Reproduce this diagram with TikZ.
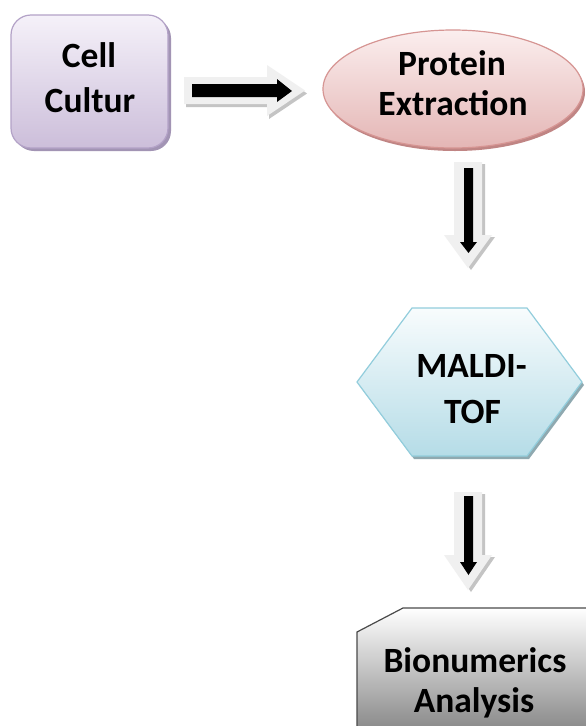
\documentclass[tikz,border=0pt]{standalone}
\usepackage{fontspec}
\setmainfont{Carlito}
\usetikzlibrary{shapes.geometric,shadows}
\definecolor{lavtop}{HTML}{F5F1F9}
\definecolor{lavbot}{HTML}{CCBEDA}
\definecolor{lavline}{HTML}{B3A2C7}
\definecolor{lavshadow}{HTML}{A294B4}
\definecolor{pinktop}{HTML}{FBEEEE}
\definecolor{pinkbot}{HTML}{E4B6B5}
\definecolor{pinkline}{HTML}{D69593}
\definecolor{pinkshadow}{HTML}{C08584}
\definecolor{bluetop}{HTML}{F8FCFD}
\definecolor{bluebot}{HTML}{B5DCE7}
\definecolor{blueline}{HTML}{92CDDC}
\definecolor{blueshadow}{HTML}{8FA9B0}
\definecolor{greyline}{HTML}{4A4A4A}
\definecolor{arrowfill}{HTML}{F0F0F0}
\definecolor{arrowshadow}{HTML}{C4C4C4}
\begin{document}
\begin{tikzpicture}[x=1pt,y=-1pt,
  lbl/.style={anchor=base,font=\fontsize{35.5}{40}\selectfont\bfseries,inner sep=0pt},
  outerarrow/.style={fill=arrowfill,draw=none},
  arrowshade/.style={fill=arrowshadow,draw=none},
  innerarrow/.style={fill=black,draw=none}]
\useasboundingbox (0,0) rectangle (586,726);
\fill[white] (0,0) rectangle (586,726);

% Cell Cultur box
\fill[lavshadow,rounded corners=20pt] (14,18) rectangle (171,151);
\node[draw=lavline,line width=1.2pt,rounded corners=20pt,top color=lavtop,bottom color=lavbot,
      minimum width=157pt,minimum height=133pt,inner sep=0pt] (cell) at (89.5,81.5) {};
\node[lbl] (cellA) at (89,67) {Cell};
\node[lbl] (cellB) at (90,112) {Cultur};

% Protein Extraction ellipse
\fill[pinkshadow] (455,92) ellipse [x radius=130pt,y radius=59pt];
\node[ellipse,draw=pinkline,line width=1.2pt,top color=pinktop,bottom color=pinkbot,
      minimum width=260pt,minimum height=118pt,inner sep=0pt] (prot) at (453,89) {};
\node[lbl] (protA) at (452,75) {Protein};
\node[lbl] (protB) at (453,115) {Extraction};

% MALDI-TOF hexagon
\coordinate (hexc) at (470,382);
\fill[blueshadow] ([shift={(2,3)}]hexc) ++(-113,0) -- ++(55,-74) -- ++(115,0) -- ++(55,74) -- ++(-55,74) -- ++(-115,0) -- cycle;
\path[draw=blueline,line width=1.2pt,top color=bluetop,bottom color=bluebot]
  (hexc) ++(-113,0) -- ++(55,-74) -- ++(115,0) -- ++(55,74) -- ++(-55,74) -- ++(-115,0) -- cycle;
\node[lbl] (maldiA) at (471.5,377) {MALDI-};
\node[lbl] (maldiB) at (472.5,423) {TOF};

% Bionumerics Analysis snipped box
\path[draw=greyline,line width=1.2pt,top color=white,bottom color=black!52]
  (357,632) -- (403,608) -- (592,608) -- (592,745) -- (357,745) -- cycle;
\node[lbl] (bioA) at (475,672) {Bionumerics};
\node[lbl] (bioB) at (474,712) {Analysis};

% horizontal block arrow
\fill[arrowshade,shift={(2,3)}] (184,77) -- (267,77) -- (267,65) -- (305,90.5) -- (267,116) -- (267,104) -- (184,104) -- cycle;
\fill[outerarrow] (184,77) -- (267,77) -- (267,65) -- (305,90.5) -- (267,116) -- (267,104) -- (184,104) -- cycle;
\fill[innerarrow] (192,84) -- (277,84) -- (277,79) -- (292,91) -- (277,102) -- (277,97) -- (192,97) -- cycle;

% vertical block arrow 1
\fill[arrowshade,shift={(3,2)}] (454,162) -- (482,162) -- (482,235) -- (492,235) -- (468,268) -- (444,235) -- (454,235) -- cycle;
\fill[outerarrow] (454,162) -- (482,162) -- (482,235) -- (492,235) -- (468,268) -- (444,235) -- (454,235) -- cycle;
\fill[innerarrow] (464,168) -- (473,168) -- (473,242) -- (477,242) -- (468.5,253) -- (460,242) -- (464,242) -- cycle;

% vertical block arrow 2
\fill[arrowshade,shift={(3,2)}] (454,492) -- (482,492) -- (482,555) -- (492,555) -- (468,590) -- (444,555) -- (454,555) -- cycle;
\fill[outerarrow] (454,492) -- (482,492) -- (482,555) -- (492,555) -- (468,590) -- (444,555) -- (454,555) -- cycle;
\fill[innerarrow] (464,496) -- (473,496) -- (473,562) -- (477,562) -- (468.5,575) -- (460,562) -- (464,562) -- cycle;
\end{tikzpicture}
\end{document}
